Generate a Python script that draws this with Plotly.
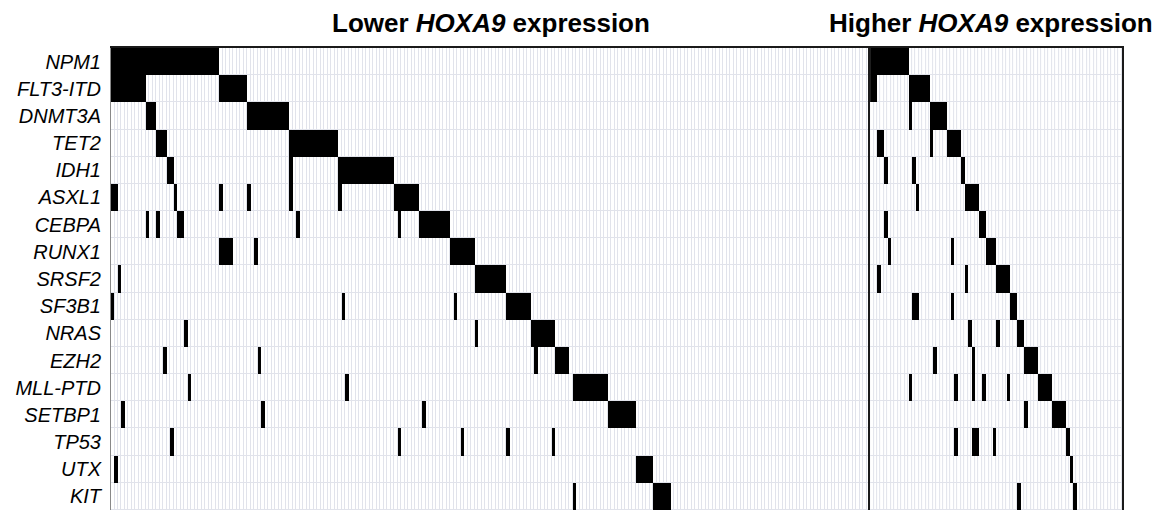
import numpy as np
import plotly.graph_objects as go

GENES = ["NPM1", "FLT3-ITD", "DNMT3A", "TET2", "IDH1", "ASXL1", "CEBPA", "RUNX1",
         "SRSF2", "SF3B1", "NRAS", "EZH2", "MLL-PTD", "SETBP1", "TP53", "UTX", "KIT"]

N_LOW = 217   # patients, lower HOXA9 expression
N_HIGH = 72   # patients, higher HOXA9 expression

# mutated patient columns as [start, end) ranges -- lower HOXA9 group
NPM1_LOW = [[0, 31]]
FLT3_LOW = [[0, 10], [31, 39]]
DNMT3A_LOW = [[10, 13], [39, 51]]
TET2_LOW = [[13, 16], [51, 65]]
IDH1_LOW = [[16, 18], [51, 52], [65, 81]]
ASXL1_LOW = [[0, 2], [18, 19], [31, 32], [39, 40], [51, 52], [65, 66], [81, 88]]
CEBPA_LOW = [[10, 11], [13, 14], [19, 21], [53, 54], [82, 83], [88, 97]]
RUNX1_LOW = [[31, 35], [41, 42], [97, 104]]
SRSF2_LOW = [[2, 3], [104, 113]]
SF3B1_LOW = [[0, 1], [66, 67], [98, 99], [113, 120]]
NRAS_LOW = [[21, 22], [104, 105], [120, 127]]
EZH2_LOW = [[15, 16], [42, 43], [121, 122], [127, 131]]
MLLPTD_LOW = [[22, 23], [67, 68], [132, 142]]
SETBP1_LOW = [[3, 4], [43, 44], [89, 90], [142, 150]]
TP53_LOW = [[17, 18], [82, 83], [100, 101], [113, 114], [126, 127]]
UTX_LOW = [[1, 2], [150, 155]]
KIT_LOW = [[132, 133], [155, 160]]

# higher HOXA9 group
NPM1_HIGH = [[0, 11]]
FLT3_HIGH = [[0, 2], [11, 17]]
DNMT3A_HIGH = [[11, 12], [17, 22]]
TET2_HIGH = [[2, 4], [17, 18], [22, 26]]
IDH1_HIGH = [[4, 5], [12, 13], [26, 27]]
ASXL1_HIGH = [[13, 14], [27, 31]]
CEBPA_HIGH = [[4, 5], [31, 33]]
RUNX1_HIGH = [[5, 6], [23, 24], [33, 36]]
SRSF2_HIGH = [[2, 3], [27, 28], [36, 40]]
SF3B1_HIGH = [[12, 13], [13, 14], [23, 24], [40, 42]]
NRAS_HIGH = [[28, 29], [36, 37], [42, 44]]
EZH2_HIGH = [[18, 19], [29, 30], [44, 48]]
MLLPTD_HIGH = [[11, 12], [24, 25], [29, 30], [32, 33], [39, 40], [48, 52]]
SETBP1_HIGH = [[44, 45], [52, 56]]
TP53_HIGH = [[24, 25], [29, 31], [35, 36], [56, 57]]
UTX_HIGH = [[57, 58]]
KIT_HIGH = [[42, 43], [58, 59]]

LOW = [NPM1_LOW, FLT3_LOW, DNMT3A_LOW, TET2_LOW, IDH1_LOW, ASXL1_LOW, CEBPA_LOW,
       RUNX1_LOW, SRSF2_LOW, SF3B1_LOW, NRAS_LOW, EZH2_LOW, MLLPTD_LOW, SETBP1_LOW,
       TP53_LOW, UTX_LOW, KIT_LOW]
HIGH = [NPM1_HIGH, FLT3_HIGH, DNMT3A_HIGH, TET2_HIGH, IDH1_HIGH, ASXL1_HIGH, CEBPA_HIGH,
        RUNX1_HIGH, SRSF2_HIGH, SF3B1_HIGH, NRAS_HIGH, EZH2_HIGH, MLLPTD_HIGH, SETBP1_HIGH,
        TP53_HIGH, UTX_HIGH, KIT_HIGH]

TITLE_LOW = "<b>Lower <i>HOXA9</i> expression</b>"
TITLE_HIGH = "<b>Higher <i>HOXA9</i> expression</b>"


def matrix(ranges, n):
    z = np.full((len(GENES), n), np.nan)
    for gi, rr in enumerate(ranges):
        for a, b in rr:
            z[gi, a:b] = 1.0
    return z


GRID = "#e1e3eb"
FRAME = "#1a1a1a"
FONT = "Liberation Sans, Arial, sans-serif"
rows = list(range(len(GENES)))

fig = go.Figure()
for n, xa, ya, ranges in [(N_LOW, "x", "y", LOW), (N_HIGH, "x2", "y2", HIGH)]:
    cols = list(range(n))
    fig.add_trace(go.Heatmap(
        z=np.zeros((len(GENES), n)), x=cols, y=rows, xaxis=xa, yaxis=ya,
        colorscale=[[0, "white"], [1, "white"]], showscale=False,
        xgap=1, ygap=1, hoverinfo="skip"))
    fig.add_trace(go.Heatmap(
        z=matrix(ranges, n), x=cols, y=rows, xaxis=xa, yaxis=ya,
        colorscale=[[0, "black"], [1, "black"]], showscale=False,
        zmin=0, zmax=1, hoverinfo="skip"))

# the page body adds an 8px offset; the figure is sized to the remaining area
W, H = 1155, 502
L, R, T = 103, 41, 40
split = N_LOW / (N_LOW + N_HIGH)

fig.update_layout(
    width=W, height=H,
    margin=dict(l=L, r=R, t=T, b=0, autoexpand=False),
    paper_bgcolor="white", plot_bgcolor=GRID,
    showlegend=False,
    xaxis=dict(domain=[0, split], range=[-0.5, N_LOW - 0.5], showgrid=False,
               zeroline=False, showticklabels=False, ticks="", side="top",
               showline=True, linecolor=FRAME, linewidth=2, anchor="y",
               automargin=False),
    xaxis2=dict(domain=[split, 1], range=[-0.5, N_HIGH - 0.5], showgrid=False,
                zeroline=False, showticklabels=False, ticks="", side="top",
                showline=True, linecolor=FRAME, linewidth=2, anchor="y2",
                automargin=False),
    yaxis=dict(range=[len(GENES) - 0.5, -0.5], tickvals=rows,
               ticktext=["<i>%s</i>" % g for g in GENES],
               tickfont=dict(family=FONT, size=20, color="black"),
               ticklabelstandoff=5,
               showgrid=False, zeroline=False, ticks="", showline=True,
               linecolor="#888888", linewidth=1, anchor="x", automargin=False),
    yaxis2=dict(range=[len(GENES) - 0.5, -0.5], showticklabels=False, showgrid=False,
                zeroline=False, ticks="", showline=True, mirror=True,
                linecolor=FRAME, linewidth=2, anchor="x2", matches="y",
                automargin=False),
    annotations=[
        dict(text=TITLE_LOW, xref="x domain", yref="paper", x=0.5, y=1,
             xanchor="center", yanchor="bottom", yshift=8, showarrow=False,
             font=dict(family=FONT, size=26, color="black")),
        dict(text=TITLE_HIGH, xref="x2 domain", yref="paper", x=0.5, y=1,
             xanchor="center", yanchor="bottom", yshift=8, xshift=-5, showarrow=False,
             font=dict(family=FONT, size=26, color="black")),
    ],
)

fig.write_html("out.html")
